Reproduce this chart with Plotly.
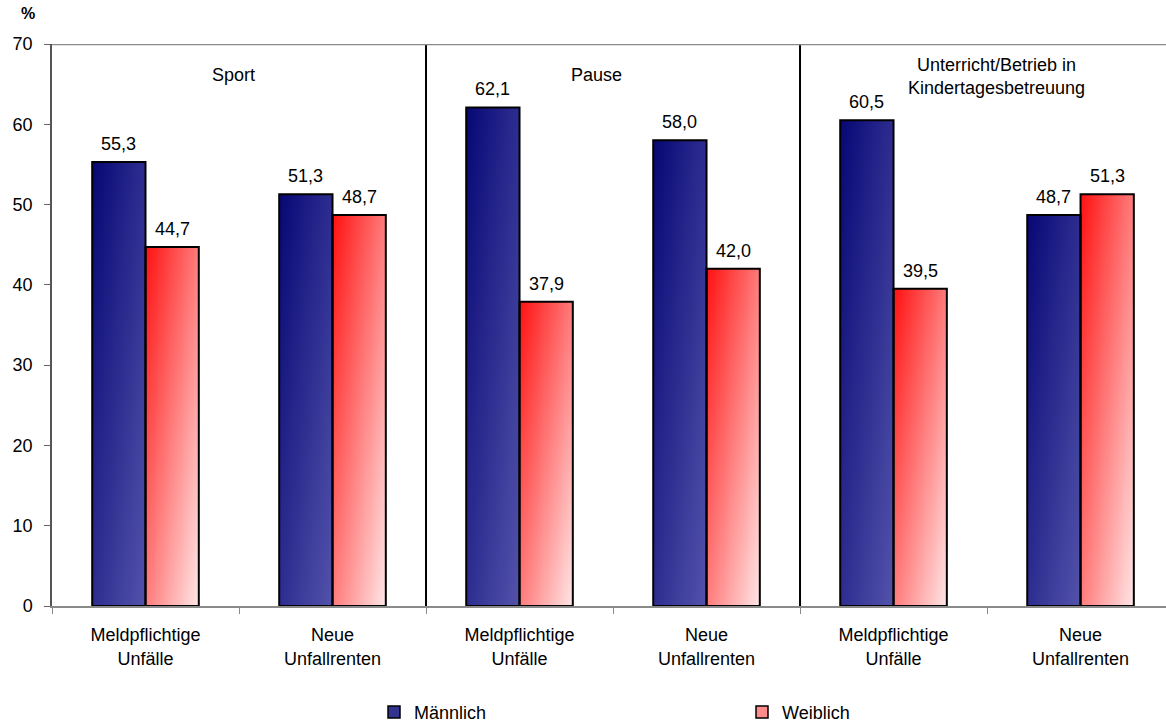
import numpy as np
import plotly.graph_objects as go

# Data
categories = ["Meldpflichtige<br>Unfälle", "Neue<br>Unfallrenten",
              "Meldpflichtige<br>Unfälle", "Neue<br>Unfallrenten",
              "Meldpflichtige<br>Unfälle", "Neue<br>Unfallrenten"]
groups = ["Sport", "Pause", "Unterricht/Betrieb in<br>Kindertagesbetreuung"]
maennlich = [55.3, 51.3, 62.1, 58.0, 60.5, 48.7]
weiblich = [44.7, 48.7, 37.9, 42.0, 39.5, 51.3]
y_ticks = [0, 10, 20, 30, 40, 50, 60, 70]

FONT = "Liberation Sans, Arial, sans-serif"
FS = 18
BAR_W = 0.285
NX, NY = 24, 120

series = [
    dict(name="Männlich", values=maennlich, offset=-BAR_W,
         scale=[[0, "rgb(8,8,118)"], [1, "rgb(84,84,172)"]],
         legend_color="rgb(50,50,145)"),
    dict(name="Weiblich", values=weiblich, offset=0.0,
         scale=[[0, "rgb(255,18,18)"], [1, "rgb(255,232,232)"]],
         legend_color="rgb(255,140,140)"),
]

x_pos = list(range(len(categories)))
fig = go.Figure()

# Diagonal gradient fill of every bar (dark top-left -> light bottom-right)
for s in series:
    for i, v in zip(x_pos, s["values"]):
        left = i + s["offset"]
        xe = np.linspace(left, left + BAR_W, NX + 1)
        ye = np.linspace(0, v, NY + 1)
        u = (np.arange(NX) + 0.5) / NX
        w = 1 - (np.arange(NY) + 0.5) / NY
        z = 0.5 * u[None, :] + 0.5 * w[:, None]
        fig.add_trace(go.Heatmap(x=xe, y=ye, z=z, colorscale=s["scale"],
                                 zmin=0, zmax=1, showscale=False,
                                 hoverinfo="skip", zsmooth="best"))

# Bar outlines
for s in series:
    fig.add_trace(go.Bar(x=x_pos, y=s["values"], width=BAR_W, offset=s["offset"],
                         marker=dict(color="rgba(0,0,0,0)",
                                     line=dict(color="black", width=2)),
                         showlegend=False, hoverinfo="skip"))

# Legend entries
for s in series:
    fig.add_trace(go.Bar(x=[None], y=[None], name=s["name"],
                         marker=dict(color=s["legend_color"],
                                     line=dict(color="black", width=1.5))))

# Value labels
for s in series:
    for i, v in zip(x_pos, s["values"]):
        fig.add_annotation(x=i + s["offset"] + BAR_W / 2, y=v,
                           text=f"{v:.1f}".replace(".", ","),
                           showarrow=False, yanchor="bottom", yshift=6,
                           font=dict(family=FONT, size=FS, color="black"))

# Group titles
group_x = [0.468, 2.414, 4.548]
group_y = [66.2, 66.2, 66.0]
for gx, gy, g in zip(group_x, group_y, groups):
    fig.add_annotation(x=gx, y=gy, text=g, showarrow=False,
                       font=dict(family=FONT, size=FS, color="black"))

# Group separators and top border
for sx in [1.5, 3.5]:
    fig.add_shape(type="line", x0=sx, x1=sx, y0=0, y1=70, xref="x", yref="y",
                  line=dict(color="black", width=2))
fig.add_shape(type="line", x0=-0.5, x1=5.5, y0=70, y1=70, xref="x", yref="y",
              line=dict(color="#8a8a8a", width=2.5))

# Unit label
fig.add_annotation(xref="paper", yref="paper", x=(28 - 52) / 1114,
                   y=(606 - 15) / 561, xanchor="center", yanchor="middle",
                   text="<b>%</b>", showarrow=False,
                   font=dict(family=FONT, size=16, color="black"))

fig.update_layout(
    width=1166, height=726,
    margin=dict(l=52, r=0, t=44, b=120, autoexpand=False),
    paper_bgcolor="white", plot_bgcolor="white",
    barmode="overlay",
    font=dict(family=FONT, size=FS, color="black"),
    showlegend=True,
    legend=dict(orientation="h", x=(374 - 52) / 1114, xanchor="left",
                y=-(712 - 606) / 561, yanchor="middle",
                entrywidth=323, entrywidthmode="pixels",
                font=dict(family=FONT, size=FS, color="black"),
                bgcolor="rgba(0,0,0,0)"),
    xaxis=dict(range=[-0.5, 5.457], tickmode="array", tickvals=x_pos,
               ticktext=categories, ticks="", showgrid=False, zeroline=False,
               showline=True, linecolor="#8a8a8a", linewidth=1.5,
               ticklabelstandoff=12,
               tickfont=dict(family=FONT, size=FS, color="black"),
               minor=dict(tickmode="array", tickvals=[-0.5, 0.5, 1.5, 2.5, 3.5, 4.5, 5.5],
                          ticks="outside", ticklen=6, tickcolor="#8a8a8a", showgrid=False)),
    yaxis=dict(range=[0, 70], tickmode="array", tickvals=y_ticks,
               ticks="outside", ticklen=6, tickcolor="#666", showgrid=False,
               zeroline=False, showline=True, linecolor="#555", linewidth=1.5,
               ticklabelstandoff=8,
               tickfont=dict(family=FONT, size=FS, color="black")),
)

fig.write_html("out.html")
